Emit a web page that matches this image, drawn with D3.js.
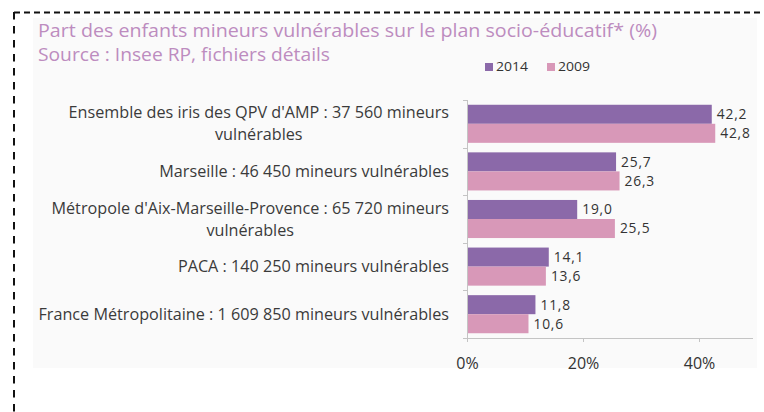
<!DOCTYPE html>
<html><head><meta charset="utf-8">
<script src="https://cdn.jsdelivr.net/npm/d3@7"></script>
<style>
html,body{margin:0;padding:0;background:#fff;}
svg{display:block;}
text{font-family:"Open Sans",sans-serif;}
</style></head>
<body>
<svg id="chart" width="764" height="412"></svg>
<script>
const titleLines = ["Part des enfants mineurs vulnérables sur le plan socio-éducatif* (%)", "Source : Insee RP, fichiers détails"];
const categories = [
  ["Ensemble des iris des QPV d'AMP : 37 560 mineurs", "vulnérables"],
  ["Marseille : 46 450 mineurs vulnérables"],
  ["Métropole d'Aix-Marseille-Provence : 65 720 mineurs", "vulnérables"],
  ["PACA : 140 250 mineurs vulnérables"],
  ["France Métropolitaine : 1 609 850 mineurs vulnérables"]
];
const seriesNames = ["2014", "2009"];
const values2014 = [42.2, 25.7, 19.0, 14.1, 11.8];
const values2009 = [42.8, 26.3, 25.5, 13.6, 10.6];
const xTicks = [0, 20, 40];
const colors = ["#8b69a9", "#d898b8"];

const svg = d3.select("#chart");

// faint background panel
svg.append("rect").attr("x", 33).attr("y", 18).attr("width", 724).attr("height", 350).attr("fill", "#fafafa");

// dashed frame
svg.append("path").attr("d", "M14,12.5 H764")
  .attr("fill", "none").attr("stroke", "#111").attr("stroke-width", 2).attr("stroke-dasharray", "6,4");
svg.append("path").attr("d", "M14,12 V412")
  .attr("fill", "none").attr("stroke", "#111").attr("stroke-width", 2).attr("stroke-dasharray", "7.5,6.5");

// title
svg.append("text").attr("x", 38).attr("y", 37).attr("font-size", 18).attr("fill", "#bd8cbf")
  .attr("textLength", 619).attr("lengthAdjust", "spacingAndGlyphs").text(titleLines[0]);
svg.append("text").attr("x", 38).attr("y", 61).attr("font-size", 18).attr("fill", "#bd8cbf")
  .attr("textLength", 292).attr("lengthAdjust", "spacingAndGlyphs").text(titleLines[1]);

const x = d3.scaleLinear().domain([0, 20]).range([467, 583]);
const y = d3.scaleBand().domain(d3.range(categories.length)).range([100, 338]).paddingInner(0.2).paddingOuter(0.1);
const ySub = d3.scaleBand().domain([0, 1]).range([0, y.bandwidth()]);

// legend
const legX = [485, 547];
seriesNames.forEach((s, i) => {
  svg.append("rect").attr("x", legX[i]).attr("y", 63).attr("width", 8).attr("height", 8).attr("fill", colors[i]);
  svg.append("text").attr("x", legX[i] + 11).attr("y", 71).attr("font-size", 13.5).attr("fill", "#333")
    .attr("textLength", 32).attr("lengthAdjust", "spacingAndGlyphs").text(s);
});

// axes
const xAxis = d3.axisBottom(x).tickValues(xTicks).tickFormat(d => d + "%").tickSize(4).tickSizeOuter(0);
const gx = svg.append("g").attr("transform", "translate(0,338)").call(xAxis);
gx.select(".domain").attr("d", "M467,0.5H753").attr("stroke", "#c4c4c4");
gx.selectAll(".tick line").attr("stroke", "#c4c4c4");
gx.selectAll(".tick text").attr("font-size", 16).attr("fill", "#333").attr("dy", 0).attr("y", 31)
  .style("font-family", "'Open Sans',sans-serif");

const yTicks = d3.range(categories.length + 1).map(i => i < categories.length ? y(i) - y.step() * y.paddingOuter() : 338);
const gy = svg.append("g");
gy.append("line").attr("x1", 467.5).attr("x2", 467.5).attr("y1", 100).attr("y2", 338).attr("stroke", "#c4c4c4");
gy.selectAll("line.t").data(yTicks).join("line").attr("class", "t")
  .attr("x1", 463).attr("x2", 467).attr("y1", d => Math.round(d) + 0.5).attr("y2", d => Math.round(d) + 0.5).attr("stroke", "#c4c4c4");

// bars
const series = [values2014, values2009];
series.forEach((vals, si) => {
  svg.append("g").selectAll("rect").data(vals).join("rect")
    .attr("x", x(0) + 1)
    .attr("y", (d, i) => y(i) + ySub(si))
    .attr("width", d => x(d) - x(0) - 1)
    .attr("height", ySub.bandwidth())
    .attr("fill", colors[si]);
  svg.append("g").selectAll("text").data(vals).join("text")
    .attr("x", d => x(d) + 5)
    .attr("y", (d, i) => y(i) + ySub(si) + ySub.bandwidth() / 2)
    .attr("dy", "0.35em")
    .attr("font-size", 13.8).attr("letter-spacing", 0.8).attr("fill", "#333")
    .text(d => d3.format(".1f")(d).replace(".", ","));
});

// category labels
categories.forEach((lines, i) => {
  const cy = y(i) + y.bandwidth() / 2;
  const lh = 22;
  const t = svg.append("text").attr("font-size", 16.2).attr("fill", "#3a3a3a").attr("text-anchor", "middle");
  lines.forEach((ln, j) => {
    t.append("tspan").attr("y", cy + (j - (lines.length - 1) / 2) * lh).attr("dy", "0.35em").text(ln);
  });
  const tsp = t.selectAll("tspan").nodes();
  const w0 = tsp[0].getComputedTextLength();
  const center = 449 - w0 / 2;
  tsp.forEach(n => d3.select(n).attr("x", center));
});
</script>
</body></html>
